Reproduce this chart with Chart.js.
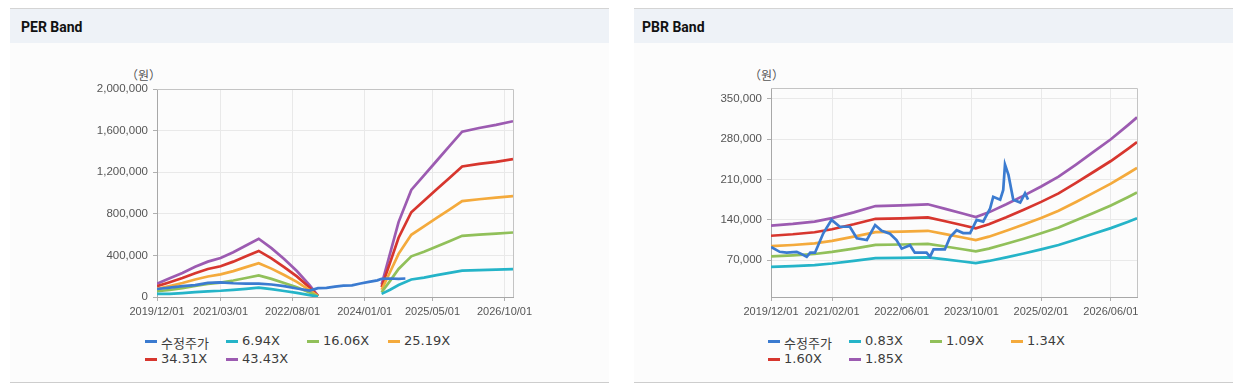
<!DOCTYPE html>
<html><head><meta charset="utf-8">
<script src="https://cdn.jsdelivr.net/npm/chart.js@4.4.1/dist/chart.umd.min.js"></script>
<style>
html,body{margin:0;padding:0;background:#fff;width:1244px;height:387px;overflow:hidden;position:relative;}
.panel{position:absolute;top:8px;height:373px;background:#fcfcfc;border-top:1px solid #d4d4d4;border-bottom:1px solid #cdcdcd;}
.head{position:absolute;left:0;right:0;top:0;height:34px;background:#eef2f7;}
.head span{position:absolute;left:11px;top:10px;line-height:16px;font:bold 14px Roboto,"Liberation Sans",sans-serif;color:#111;}
.unit{position:absolute;font:12px "Noto Sans CJK KR",sans-serif;color:#555;line-height:14px;}
.item{position:absolute;white-space:nowrap;height:16px;line-height:16px;font:13px "DejaVu Sans","Noto Sans CJK KR",sans-serif;color:#3c3c3c;}
.item i{position:absolute;left:0;top:7px;width:12px;height:3px;}
.item b{font-weight:normal;position:absolute;left:16px;top:0;}
canvas{position:absolute;}
</style></head>
<body>
<div class="panel" style="left:10px;width:599px;"><div class="head"><span>PER Band</span></div></div>
<div class="panel" style="left:634px;width:599px;"><div class="head"><span style="left:8px">PBR Band</span></div></div>
<div class="unit" style="left:126px;top:68px;">（원）</div>
<div class="unit" style="left:749px;top:68px;">（원）</div>
<canvas id="per" width="540" height="265" style="left:10px;top:60px;width:540px;height:265px;"></canvas>
<canvas id="pbr" width="540" height="265" style="left:650px;top:60px;width:540px;height:265px;"></canvas>
<div id="perLegend"></div>
<div id="pbrLegend"></div>
<script>
// ---------- shared ----------
const seriesColors = ['#3b7bd0', '#25b4c8', '#91c05a', '#f4aa3c', '#d7362e', '#9c5bb1'];

// ---------- PER Band data (months since 2019/12, values in KRW) ----------
const perNames = ['수정주가', '6.94X', '16.06X', '25.19X', '34.31X', '43.43X'];
const perTickMonths = [0, 15, 32, 49, 65, 82];
const perTickLabels = ['2019/12/01', '2021/03/01', '2022/08/01', '2024/01/01', '2025/05/01', '2026/10/01'];
const perYTicks = [0, 400000, 800000, 1200000, 1600000, 2000000];

const perPriceMonths = [0, 3, 6, 9, 12, 15, 18, 21, 24, 27, 30, 33, 36, 38, 40, 42, 44, 46, 48, 50, 52, 53, 55, 57, 58.6];
const perPrice = [77000, 90000, 105000, 115000, 135000, 140000, 132000, 128000, 128000, 120000, 105000, 82000, 62000, 85000, 88000, 100000, 110000, 112000, 130000, 145000, 160000, 175000, 178000, 175000, 178000];

const perBandMonths = [0, 3, 6, 9, 12, 15, 18, 21, 24, 27, 30, 33, 36, 38, 45, 53, 55, 57, 60, 63, 66, 69, 72, 76, 80, 84];
const per694 = [30000, 30000, 37000, 46000, 54000, 60000, 69000, 79000, 90000, 75000, 58000, 40000, 18000, 4000, null, 30000, 70000, 115000, 168000, 187000, 210000, 232000, 254000, 259000, 263000, 268000];
const per1606 = [55000, 67000, 85000, 107000, 126000, 139000, 159000, 183000, 207000, 174000, 135000, 93000, 43000, 6000, null, 45000, 155000, 270000, 391000, 434000, 485000, 537000, 588000, 600000, 610000, 620000];
const per2519 = [78000, 105000, 134000, 168000, 197000, 218000, 249000, 287000, 325000, 273000, 211000, 145000, 67000, 8000, null, 70000, 240000, 415000, 598000, 680000, 760000, 841000, 922000, 940000, 955000, 970000];
const per3431 = [104000, 142000, 182000, 229000, 269000, 296000, 340000, 391000, 443000, 371000, 288000, 198000, 91000, 10000, null, 95000, 330000, 570000, 815000, 925000, 1035000, 1145000, 1255000, 1280000, 1300000, 1325000];
const per4343 = [128000, 180000, 230000, 290000, 340000, 375000, 430000, 495000, 560000, 470000, 365000, 250000, 115000, 12000, null, 120000, 420000, 720000, 1030000, 1170000, 1310000, 1450000, 1590000, 1625000, 1655000, 1690000];

// ---------- PBR Band data ----------
const pbrNames = ['수정주가', '0.83X', '1.09X', '1.34X', '1.60X', '1.85X'];
const pbrTickMonths = [0, 14, 30, 46, 62, 78];
const pbrTickLabels = ['2019/12/01', '2021/02/01', '2022/06/01', '2023/10/01', '2025/02/01', '2026/06/01'];
const pbrYTicks = [70000, 140000, 210000, 280000, 350000];

const pbrPriceMonths = [0, 2, 3.6, 5.9, 6.7, 8.2, 9, 10.1, 12, 13.9, 15.8, 18.1, 19.7, 22, 23.9, 25.4, 27.3, 28.8, 30, 31.9, 33, 35.7, 36.5, 37.3, 39.9, 41.1, 42.6, 44.1, 45.7, 47.2, 48.7, 50.3, 51, 52.6, 53.3, 53.7, 54.5, 55.6, 57.2, 58.3, 59];
const pbrPrice = [93000, 84500, 83000, 84500, 81700, 75800, 83000, 83000, 116700, 140000, 128000, 128000, 108000, 105000, 131000, 121000, 116000, 105000, 90000, 96000, 83000, 83000, 76000, 88600, 88600, 110000, 122000, 117000, 117000, 140000, 137000, 160000, 180000, 175000, 192000, 236000, 218000, 175000, 170000, 186000, 175000];

const pbrBandMonths = [0, 5, 10, 14, 19, 24, 30, 36, 40, 44, 47, 50, 54, 58, 62, 66, 70, 74, 78, 82, 84];
const pbr083 = [58300, 59700, 61500, 64200, 68600, 73600, 74000, 74900, 71300, 67700, 65000, 68600, 74900, 81600, 88800, 96400, 105900, 115700, 125600, 136800, 142700];
const pbr109 = [76600, 78400, 80700, 84300, 90100, 96600, 97200, 98400, 93700, 89000, 85400, 90100, 98400, 107200, 116700, 126700, 139100, 152000, 165000, 179700, 187400];
const pbr134 = [94200, 96300, 99200, 103600, 110800, 118800, 119500, 121000, 115200, 109400, 105000, 110800, 121000, 131800, 143400, 155700, 170900, 186900, 202800, 220900, 230300];
const pbr160 = [112400, 115000, 118500, 123700, 132300, 141800, 142700, 144400, 137500, 130600, 125400, 132300, 144400, 157400, 171200, 186000, 204100, 223100, 242200, 263800, 275000];
const pbr185 = [130000, 133000, 137000, 143000, 153000, 164000, 165000, 167000, 159000, 151000, 145000, 153000, 167000, 182000, 198000, 215000, 236000, 258000, 280000, 305000, 318000];

// ---------- helpers ----------
const pts = (xs, ys) => xs.map((x, i) => ({ x: x, y: ys[i] }));

const frame = {
  id: 'frame',
  beforeDatasetsDraw(chart) {
    const a = chart.chartArea, c = chart.ctx;
    c.save();
    c.strokeStyle = '#c4c4c4';
    c.lineWidth = 1;
    c.beginPath();
    c.moveTo(a.left, a.top + 0.5);
    c.lineTo(a.right + 0.5, a.top + 0.5);
    c.lineTo(a.right + 0.5, a.bottom);
    c.stroke();
    c.restore();
  }
};

function makeChart(id, names, priceXs, price, bandXs, bands, tickMonths, tickLabels, yTicks, yMin, yMax, yWidth, pad) {
  const datasets = [{
    label: names[0], data: pts(priceXs, price), borderColor: seriesColors[0], order: 0
  }];
  bands.forEach((b, i) => datasets.push({
    label: names[i + 1], data: pts(bandXs, b), borderColor: seriesColors[i + 1], order: 1
  }));
  datasets.forEach(d => { d.borderWidth = 2.7; d.pointRadius = 0; d.tension = 0; d.spanGaps = false; d.fill = false; });
  return new Chart(document.getElementById(id), {
    type: 'line',
    data: { datasets },
    plugins: [frame],
    options: {
      responsive: false, animation: false, devicePixelRatio: 1, locale: 'en-US',
      layout: { padding: pad },
      plugins: { legend: { display: false }, tooltip: { enabled: false } },
      scales: {
        x: {
          type: 'linear', min: 0, max: 84,
          afterBuildTicks: s => { s.ticks = tickMonths.map(v => ({ value: v })); },
          afterFit: s => { s.height = 28; },
          ticks: {
            autoSkip: false, maxRotation: 0, padding: 4, color: '#555',
            font: { family: 'Liberation Sans', size: 11 },
            callback: v => { const k = tickMonths.indexOf(v); return k >= 0 ? tickLabels[k] : ''; }
          },
          grid: { color: '#e9e9e9', tickLength: 4, tickColor: '#b0b0b0' },
          border: { color: '#a8a8a8' }
        },
        y: {
          type: 'linear', min: yMin, max: yMax,
          afterBuildTicks: s => { s.ticks = yTicks.map(v => ({ value: v })); },
          afterFit: s => { s.width = yWidth; },
          ticks: {
            padding: 5, color: '#555',
            font: { family: 'Liberation Sans', size: 11.5 },
            callback: v => Number(v).toLocaleString('en-US')
          },
          grid: { color: '#e9e9e9', tickLength: 4, tickColor: '#b0b0b0' },
          border: { color: '#a8a8a8' }
        }
      }
    }
  });
}

function makeLegend(id, names, left, top) {
  const box = document.getElementById(id);
  names.forEach((n, i) => {
    const d = document.createElement('div');
    d.className = 'item';
    d.style.left = (left + (i % 4) * 81) + 'px';
    d.style.top = (top + Math.floor(i / 4) * 18) + 'px';
    d.innerHTML = '<i style="background:' + seriesColors[i] + '"></i><b></b>';
    d.querySelector('b').textContent = n;
    box.appendChild(d);
  });
}

makeChart('per', perNames, perPriceMonths, perPrice, perBandMonths,
  [per694, per1606, per2519, per3431, per4343],
  perTickMonths, perTickLabels, perYTicks, 0, 2000000, 147,
  { left: 0, top: 29, right: 37, bottom: 0 });

makeChart('pbr', pbrNames, pbrPriceMonths, pbrPrice, pbrBandMonths,
  [pbr083, pbr109, pbr134, pbr160, pbr185],
  pbrTickMonths, pbrTickLabels, pbrYTicks, 6000, 369000, 121,
  { left: 0, top: 28, right: 53, bottom: 0 });

makeLegend('perLegend', perNames, 145, 333);
makeLegend('pbrLegend', pbrNames, 768, 333);
</script>
</body></html>
